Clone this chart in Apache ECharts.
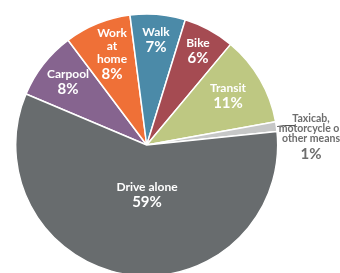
<!DOCTYPE html>
<html>
<head>
  <meta charset="utf-8">
  <script src="https://cdn.jsdelivr.net/npm/echarts@6/dist/echarts.min.js"></script>
  <style>
    html, body { margin: 0; padding: 0; background: #fff; }
    #main { width: 340px; height: 273px; }
  </style>
</head>
<body>
  <div id="main"></div>
  <script>
    // slices in clockwise order, starting at the Carpool / Drive alone edge
    var names = ['Carpool', 'Work\nat\nhome', 'Walk', 'Bike', 'Transit', 'Taxicab,\nmotorcycle or\nother means', 'Drive alone'];
    var shares = [8.4, 8.2, 6.8, 6.3, 11.1, 1.2, 58.0];
    var pctLabels = ['8%', '8%', '7%', '6%', '11%', '1%', '59%'];
    var colors = ['#86648f', '#ef7037', '#4b8aa8', '#a54b52', '#bec882', '#c6c7c7', '#686c6e'];

    // label centres (layout only)
    var labelPos = [[68, 83], [112, 55], [156, 41], [198, 52], [228, 97], [311, 139], [147, 196]];
    var smallSlice = 5;

    var chart = echarts.init(document.getElementById('main'));

    var data = [];
    var lineData = [];
    for (var i = 0; i < names.length; i++) {
      var outside = i == smallSlice;
      data.push({
        name: names[i],
        value: shares[i],
        itemStyle: { color: colors[i] },
        label: outside ? {
          position: 'outside',
          width: 70,
          overflow: 'none',
          formatter: '{n|{b}}\n{p|' + pctLabels[i] + '}',
          rich: {
            n: { color: '#6d6d6d', fontSize: 10.5, fontWeight: 'bold', lineHeight: 10, fontFamily: 'Lato', align: 'center' },
            p: { color: '#6d6d6d', fontSize: 15, fontWeight: 'bold', lineHeight: 20, fontFamily: 'Lato', align: 'center' }
          }
        } : {
          position: 'inside',
          formatter: '{n|{b}}\n{p|' + pctLabels[i] + '}'
        },
        labelLine: { show: false }
      });
      // same slices again, invisible, only to carry the leader line of the small slice
      lineData.push({
        name: names[i],
        value: shares[i],
        label: { show: outside },
        labelLine: { show: outside }
      });
    }

    var option = {
      animation: false,
      series: [{
        type: 'pie',
        center: [146.7, 145],
        radius: 131,
        startAngle: 157.1,
        clockwise: true,
        data: data,
        itemStyle: { borderColor: '#fff', borderWidth: 1.5 },
        label: {
          color: '#fff',
          align: 'center',
          rich: {
            n: { color: '#fff', fontSize: 12, fontWeight: 'bold', lineHeight: 13, fontFamily: 'Lato', align: 'center' },
            p: { color: '#fff', fontSize: 15, fontWeight: 'bold', lineHeight: 17, fontFamily: 'Lato', align: 'center' }
          }
        },
        labelLayout: function (params) {
          var p = labelPos[params.dataIndex];
          return { x: p[0], y: p[1], align: 'center', verticalAlign: 'middle' };
        }
      }, {
        type: 'pie',
        silent: true,
        center: [146.7, 145],
        radius: 131,
        startAngle: 157.1,
        clockwise: true,
        data: lineData,
        itemStyle: { color: 'rgba(0,0,0,0)', borderWidth: 0 },
        label: { position: 'outside', formatter: ' ', fontSize: 2, distanceToLabelLine: 0 },
        labelLine: { length: 8, length2: 11, smooth: false, lineStyle: { color: '#555', width: 1 } }
      }]
    };

    chart.setOption(option);
  </script>
</body>
</html>
